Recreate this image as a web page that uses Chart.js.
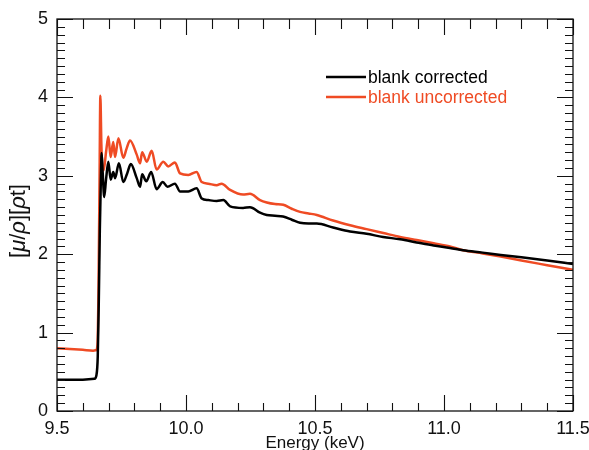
<!DOCTYPE html>
<html>
<head>
<meta charset="utf-8">
<script src="https://cdn.jsdelivr.net/npm/chart.js@4"></script>
<style>
  html, body { margin: 0; padding: 0; background: #ffffff; }
  #wrap { width: 589px; height: 450px; position: relative; }
</style>
</head>
<body>
<div id="wrap"><canvas id="c"></canvas></div>
<script>
// ---- data ----
const seriesNames = ['blank corrected', 'blank uncorrected'];

const correctedEnergy = [9.50, 9.55, 9.60, 9.645, 9.653, 9.658, 9.662, 9.666, 9.670, 9.673, 9.677, 9.683,
  9.690, 9.699, 9.708, 9.718, 9.725, 9.740, 9.757, 9.772, 9.786, 9.809, 9.822, 9.830, 9.846, 9.865,
  9.886, 9.910, 9.928, 9.957, 9.977, 10.009, 10.041, 10.061, 10.086, 10.119, 10.145, 10.171, 10.221,
  10.248, 10.287, 10.313, 10.345, 10.376, 10.410, 10.442, 10.475, 10.507, 10.57, 10.636, 10.70,
  10.764, 10.83, 10.894, 10.96, 11.023, 11.074, 11.15, 11.22, 11.30, 11.40, 11.50];
const correctedValues = [0.40, 0.40, 0.40, 0.41, 0.46, 0.70, 1.40, 2.30, 2.95, 3.29, 3.05, 2.73,
  2.95, 3.18, 2.95, 3.05, 2.97, 3.16, 2.92, 3.03, 3.15, 2.97, 2.86, 3.02, 2.93, 3.05,
  2.83, 2.92, 2.86, 2.90, 2.80, 2.80, 2.84, 2.71, 2.69, 2.68, 2.69, 2.61, 2.59,
  2.60, 2.53, 2.50, 2.49, 2.48, 2.44, 2.40, 2.39, 2.39, 2.34, 2.29, 2.26,
  2.22, 2.19, 2.15, 2.11, 2.08, 2.05, 2.02, 1.99, 1.96, 1.92, 1.875];

const uncorrectedEnergy = [9.50, 9.55, 9.60, 9.64, 9.652, 9.657, 9.661, 9.665, 9.668, 9.672, 9.676,
  9.681, 9.690, 9.699, 9.708, 9.718, 9.725, 9.738, 9.757, 9.770, 9.783, 9.809, 9.822, 9.830, 9.848,
  9.867, 9.886, 9.912, 9.931, 9.957, 9.977, 10.009, 10.041, 10.061, 10.086, 10.119, 10.138, 10.171,
  10.221, 10.248, 10.287, 10.313, 10.345, 10.377, 10.410, 10.442, 10.475, 10.507, 10.57, 10.636,
  10.70, 10.765, 10.83, 10.894, 10.96, 11.023, 11.074, 11.15, 11.22, 11.30, 11.40, 11.50];
const uncorrectedValues = [0.80, 0.79, 0.78, 0.77, 0.775, 0.85, 1.60, 3.00, 4.02, 3.40, 3.10,
  3.07, 3.30, 3.50, 3.24, 3.43, 3.24, 3.48, 3.23, 3.35, 3.45, 3.27, 3.16, 3.30, 3.18,
  3.32, 3.08, 3.18, 3.12, 3.17, 3.03, 3.01, 3.05, 2.92, 2.90, 2.88, 2.90, 2.82,
  2.76, 2.77, 2.69, 2.66, 2.64, 2.63, 2.58, 2.54, 2.52, 2.50, 2.43, 2.37,
  2.32, 2.27, 2.22, 2.18, 2.14, 2.10, 2.05, 2.01, 1.97, 1.92, 1.86, 1.80];

const xTickLabels = ['9.5', '10.0', '10.5', '11.0', '11.5'];
const yTickLabels = ['0', '1', '2', '3', '4', '5'];
const xAxisTitle = 'Energy (keV)';
const yAxisTitleParts = [['[', false], ['μ', true], ['/', false], ['ρ', true], ['][', false], ['ρ', true], ['t]', false]];

// ---- styling ----
const FONT = '"Liberation Sans", Arial, Helvetica, sans-serif';
const BLACK = '#000000';
const RED = '#EF4B24';

function pts(xs, ys) { return xs.map((x, i) => ({ x: x, y: ys[i] })); }

const framePlugin = {
  id: 'frame',
  afterDatasetsDraw(chart) {
    const ctx = chart.ctx;
    const a = chart.chartArea;
    const xs = chart.scales.x, ys = chart.scales.y;
    ctx.save();
    ctx.strokeStyle = '#111';
    ctx.lineWidth = 1.3;
    ctx.strokeRect(a.left, a.top, a.right - a.left, a.bottom - a.top);
    ctx.lineWidth = 1.1;
    ctx.beginPath();
    for (let i = 0; i <= 20; i++) {
      const v = xs.min + i * 0.1;
      const px = Math.round(xs.getPixelForValue(v)) + 0.5;
      const major = i % 5 === 0;
      const lb = major ? 16 : 8;
      const lt = major ? 16 : 10;
      ctx.moveTo(px, a.bottom); ctx.lineTo(px, a.bottom - lb);
      ctx.moveTo(px, a.top); ctx.lineTo(px, a.top + lt);
    }
    for (let i = 0; i <= 50; i++) {
      const v = ys.min + i * 0.1;
      const py = Math.round(ys.getPixelForValue(v)) + 0.5;
      const len = i % 10 === 0 ? 16 : 8;
      ctx.moveTo(a.left, py); ctx.lineTo(a.left + len, py);
      ctx.moveTo(a.right, py); ctx.lineTo(a.right - len, py);
    }
    ctx.stroke();
    ctx.restore();
  },
  afterDraw(chart) {
    const ctx = chart.ctx;
    const a = chart.chartArea;
    ctx.save();
    const entries = [[seriesNames[0], BLACK, 77], [seriesNames[1], RED, 97]];
    ctx.font = '17.5px ' + FONT;
    ctx.textBaseline = 'middle';
    ctx.textAlign = 'left';
    entries.forEach(([label, col, y]) => {
      ctx.strokeStyle = col;
      ctx.lineWidth = 2.5;
      ctx.beginPath(); ctx.moveTo(326, y); ctx.lineTo(366, y); ctx.stroke();
      ctx.fillStyle = col;
      ctx.fillText(label, 368, y + 1);
    });
    ctx.translate(19, (a.top + a.bottom) / 2 + 6);
    ctx.rotate(-Math.PI / 2);
    const fs = '22px ';
    let total = 0;
    yAxisTitleParts.forEach(([t, it]) => {
      ctx.font = (it ? 'italic ' : '') + fs + FONT;
      total += ctx.measureText(t).width;
    });
    let x = -total / 2;
    ctx.fillStyle = '#111';
    yAxisTitleParts.forEach(([t, it]) => {
      ctx.font = (it ? 'italic ' : '') + fs + FONT;
      ctx.fillText(t, x, 0);
      x += ctx.measureText(t).width;
    });
    ctx.restore();
  }
};

new Chart(document.getElementById('c'), {
  type: 'scatter',
  data: {
    datasets: [
      {
        label: seriesNames[0],
        data: pts(correctedEnergy, correctedValues),
        showLine: true,
        borderColor: BLACK,
        borderWidth: 2.5,
        pointRadius: 0,
        cubicInterpolationMode: 'monotone',
        order: 1
      },
      {
        label: seriesNames[1],
        data: pts(uncorrectedEnergy, uncorrectedValues),
        showLine: true,
        borderColor: RED,
        borderWidth: 2.5,
        pointRadius: 0,
        cubicInterpolationMode: 'monotone',
        order: 2
      }
    ]
  },
  options: {
    responsive: true,
    maintainAspectRatio: false,
    animation: false,
    layout: { padding: { top: 19, right: 16, left: 0, bottom: 0 } },
    plugins: {
      legend: { display: false },
      tooltip: { enabled: false }
    },
    scales: {
      x: {
        type: 'linear',
        position: 'bottom',
        min: 9.5,
        max: 11.5,
        grid: { display: false, drawTicks: false },
        border: { display: false },
        ticks: {
          stepSize: 0.5,
          autoSkip: false,
          maxRotation: 0,
          padding: 9,
          color: '#111',
          font: { family: FONT, size: 18, lineHeight: 1.0 },
          callback: (v, i) => xTickLabels[i]
        },
        title: {
          display: true,
          text: xAxisTitle,
          color: '#111',
          font: { family: FONT, size: 17, lineHeight: 0.76 },
          padding: { top: 0, bottom: 0 }
        },
        afterFit: s => { s.height = 39; s.paddingLeft = 0; s.paddingRight = 0; }
      },
      y: {
        type: 'linear',
        min: 0,
        max: 5,
        grid: { display: false, drawTicks: false },
        border: { display: false },
        ticks: {
          stepSize: 1,
          padding: 9,
          color: '#111',
          font: { family: FONT, size: 18 },
          callback: (v, i) => yTickLabels[i]
        },
        afterFit: s => { s.width = 57; s.paddingTop = 0; s.paddingBottom = 0; }
      }
    }
  },
  plugins: [framePlugin]
});
</script>
</body>
</html>
